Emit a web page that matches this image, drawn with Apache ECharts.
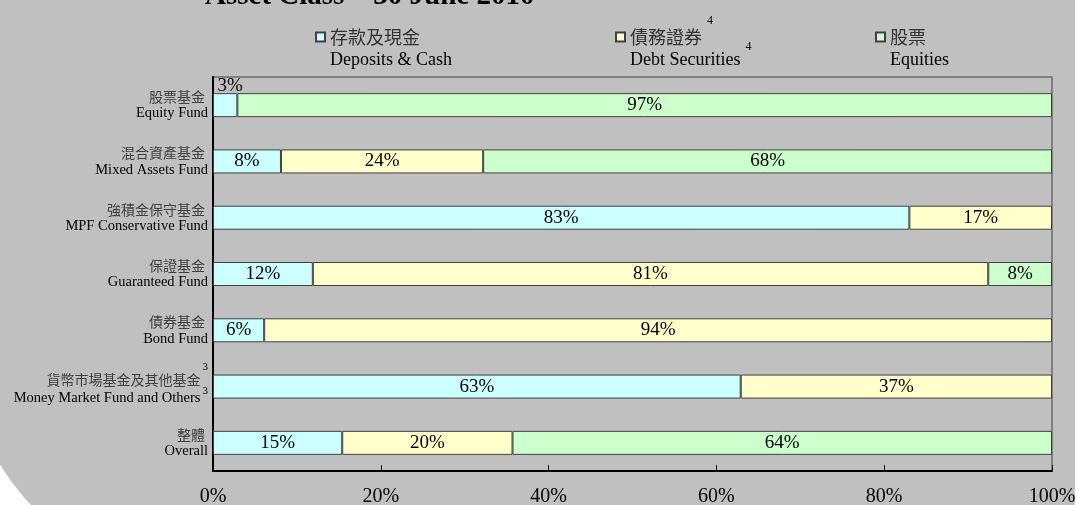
<!DOCTYPE html>
<html>
<head>
<meta charset="utf-8">
<script src="https://cdn.jsdelivr.net/npm/echarts@6/dist/echarts.min.js"></script>
<style>
  html, body { margin: 0; padding: 0; background: #fff; overflow: hidden; }
  .bg { position: absolute; left: -39px; top: 0; width: 1200px; height: 589px; background: #c0c0c0; border-bottom-left-radius: 262px; }
  #chart { position: absolute; left: 0; top: 0; width: 1075px; height: 505px; }
</style>
</head>
<body>
<div class="bg"></div>
<div id="chart"></div>
<script>
  // 基金類別
  const fundsCn = ['股票基金', '混合資產基金', '強積金保守基金', '保證基金', '債券基金', '貨幣市場基金及其他基金', '整體']
  const fundsEn = ['Equity Fund', 'Mixed Assets Fund', 'MPF Conservative Fund', 'Guaranteed Fund', 'Bond Fund', 'Money Market Fund and Others', 'Overall']
  const fundNotes = ['', '', '', '', '', '3', '']
  // 資產類別
  const assetCn = ['存款及現金', '債務證券', '股票']
  const assetEn = ['Deposits & Cash', 'Debt Securities', 'Equities']
  const assetNotes = ['', '4', '']
  // 百分比
  const depositsCash = [2.9, 8.1, 83.0, 11.9, 6.1, 62.9, 15.4]
  const debtSecurities = [0, 24.1, 17.0, 80.5, 93.9, 37.1, 20.3]
  const equities = [97.1, 67.8, 0, 7.6, 0, 0, 64.3]
  const xTicks = [0, 20, 40, 60, 80, 100]

  const colors = ['#ccffff', '#ffffcc', '#ccffcc']
  const SERIF = 'Liberation Serif'
  const CJK = 'Noto Sans CJK TC'

  function barData(arr) {
    return arr.map(v => {
      if (!v) return '-'
      // 太窄的放在柱子上方
      if (v < 5) return { value: v, label: { position: 'top', distance: 0, offset: [5, 2] } }
      return v
    })
  }

  const legendRich = {
    pad: { fontSize: 1, lineHeight: 7 },
    cn: { fontFamily: CJK, fontSize: 18, color: '#333', height: 10, lineHeight: 26, verticalAlign: 'bottom' },
    en: { fontFamily: SERIF, fontSize: 18, color: '#000', height: 10, lineHeight: 23, verticalAlign: 'bottom' },
    sup: { fontFamily: SERIF, fontSize: 12, color: '#000', height: 10, verticalAlign: 'top', padding: [0, 0, 0, 5] }
  }

  const axisRich = {
    cn: { fontFamily: CJK, fontSize: 14, color: '#404040', lineHeight: 17, padding: [0, 3, 0, 0] },
    en: { fontFamily: SERIF, fontSize: 14.5, color: '#000', lineHeight: 17 },
    cnT: { fontFamily: CJK, fontSize: 14, color: '#404040', lineHeight: 24, verticalAlign: 'bottom' },
    enT: { fontFamily: SERIF, fontSize: 14.5, color: '#000', lineHeight: 24 },
    sup: { fontFamily: SERIF, fontSize: 11, color: '#000', height: 10, verticalAlign: 'top', padding: [0, 0, 0, 2] }
  }

  const seriesData = [depositsCash, debtSecurities, equities]
  const legendLeft = [315, 615, 875]

  let myChart = echarts.init(document.getElementById('chart'))
  myChart.setOption({
    backgroundColor: 'transparent',
    animation: false,
    title: {
      text: 'Asset Class – 30 June 2010',
      left: 205,
      top: -18,
      padding: 0,
      textStyle: { fontFamily: SERIF, fontSize: 29, fontWeight: 'bold', color: '#000' }
    },
    legend: assetEn.map((name, i) => ({
      data: [name],
      left: legendLeft[i],
      top: 12,
      padding: 0,
      itemWidth: 9,
      itemHeight: 9,
      icon: 'rect',
      selectedMode: false,
      formatter(n) {
        let k = assetEn.indexOf(n)
        let sup = assetNotes[k] ? `{sup|${assetNotes[k]}}` : ''
        return `{pad| }\n{cn|${assetCn[k]}}${sup}\n{en|${assetEn[k]}}${sup}`
      },
      textStyle: { rich: legendRich }
    })),
    grid: {
      left: 213,
      right: 23,
      top: 77,
      bottom: 34,
      show: true,
      borderColor: '#808080',
      borderWidth: 2,
      backgroundColor: 'transparent',
      outerBoundsMode: 'none'
    },
    xAxis: {
      type: 'value',
      min: xTicks[0],
      max: xTicks[xTicks.length - 1],
      interval: xTicks[1] - xTicks[0],
      splitLine: { show: false },
      axisLine: { show: true, lineStyle: { color: '#000', width: 2 } },
      axisTick: { show: true, inside: true, length: 6, lineStyle: { color: '#000', width: 1 } },
      axisLabel: { formatter: '{value}%', fontFamily: SERIF, fontSize: 20, color: '#000', margin: 16 }
    },
    yAxis: {
      type: 'category',
      inverse: true,
      data: fundsEn,
      axisLine: { show: true, lineStyle: { color: '#000', width: 2 } },
      axisTick: { show: false },
      splitLine: { show: false },
      axisLabel: {
        interval: 0,
        margin: 5,
        formatter(value, index) {
          if (fundNotes[index]) {
            let s = `{sup|${fundNotes[index]}}`
            return `{cnT|${fundsCn[index]}}${s}\n{enT|${fundsEn[index]}}${s}`
          }
          return `{cn|${fundsCn[index]}}\n{en|${fundsEn[index]}}`
        },
        rich: axisRich
      }
    },
    series: seriesData.map((arr, i) => ({
      type: 'bar',
      name: assetEn[i],
      stack: 'total',
      data: barData(arr),
      barWidth: 24,
      itemStyle: { color: colors[i], borderColor: '#404040', borderWidth: 1 },
      label: {
        show: true,
        position: 'inside',
        fontFamily: SERIF,
        fontSize: 19,
        color: '#000',
        formatter: p => Math.round(p.value) + '%'
      }
    }))
  })
</script>
</body>
</html>
